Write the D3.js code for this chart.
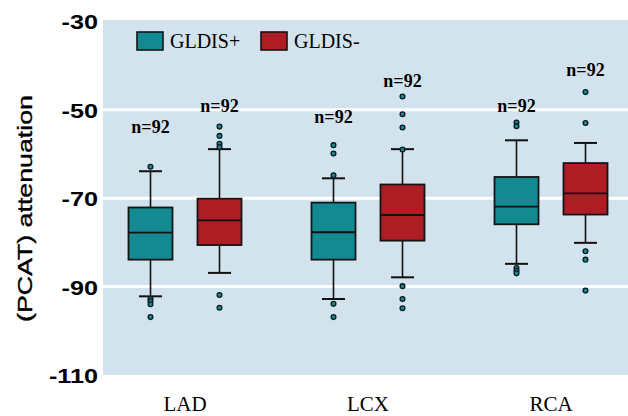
<!DOCTYPE html>
<html><head><meta charset="utf-8">
<script src="https://cdn.jsdelivr.net/npm/d3@7"></script>
<style>body{margin:0;background:#fff}svg{display:block}</style>
</head><body>
<svg id="chart" width="628" height="416"></svg>
<script>
const categories = ["LAD", "LCX", "RCA"];
const groups = ["GLDIS+", "GLDIS-"];
const yTicks = [-30, -50, -70, -90, -110];
const gridValues = [-50, -70, -90];

const plusQ3 = [-72.1, -71.0, -65.2];
const plusMedian = [-77.8, -77.7, -71.9];
const plusQ1 = [-83.9, -83.9, -75.9];
const plusWhiskerHigh = [-63.9, -65.5, -56.9];
const plusWhiskerLow = [-92.2, -92.8, -84.85];
const plusOutliers = [
  [-62.9, -92.8, -93.3, -94.0, -96.9],
  [-58.0, -59.9, -64.8, -93.9, -96.9],
  [-52.9, -53.7, -85.8, -86.4, -87.0]
];
const plusN = [92, 92, 92];
const plusLabelAt = [-55.3, -53.0, -50.5];

const minusQ3 = [-70.1, -66.9, -62.05];
const minusMedian = [-75.0, -73.8, -68.9];
const minusQ1 = [-80.6, -79.6, -73.7];
const minusWhiskerHigh = [-58.9, -58.9, -57.5];
const minusWhiskerLow = [-86.9, -87.9, -80.1];
const minusOutliers = [
  [-53.8, -55.9, -57.7, -58.4, -91.9, -94.8],
  [-47.0, -51.0, -54.0, -59.0, -89.9, -92.8, -94.9],
  [-46.0, -53.0, -82.0, -83.9, -90.9]
];
const minusN = [92, 92, 92];
const minusLabelAt = [-50.5, -44.85, -42.3];

const colors = ["#138a92", "#ae1d24"];

const series = [
  {q3: plusQ3, med: plusMedian, q1: plusQ1, wh: plusWhiskerHigh, wl: plusWhiskerLow, out: plusOutliers, n: plusN, lab: plusLabelAt},
  {q3: minusQ3, med: minusMedian, q1: minusQ1, wh: minusWhiskerHigh, wl: minusWhiskerLow, out: minusOutliers, n: minusN, lab: minusLabelAt}
];

const SANS = "'Liberation Sans', Arial, sans-serif";
const SERIF = "'Liberation Serif', 'Times New Roman', serif";

const svg = d3.select("#chart");
const panel = {left: 103, top: 20, right: 628, bottom: 375};

const y = d3.scaleLinear().domain([-110, -30]).range([375, 21.4]);
const x = d3.scaleBand().domain(categories).range([93.5, 642.5]).padding(0);
const xg = d3.scalePoint().domain(groups).range([-34.5, 34.5]);
const boxW = 44, capW = 23;

svg.append("rect").attr("x", panel.left).attr("y", panel.top)
  .attr("width", panel.right - panel.left).attr("height", panel.bottom - panel.top)
  .attr("fill", "#d3e3ed");

svg.append("g").selectAll("line").data(gridValues).join("line")
  .attr("x1", panel.left).attr("x2", panel.right)
  .attr("y1", d => y(d)).attr("y2", d => y(d))
  .attr("stroke", "#fff").attr("stroke-width", 3);

// y axis labels
const yAxis = d3.axisLeft(y).tickValues(yTicks).tickSize(0).tickPadding(0).tickFormat(d => String(d));
const ga = svg.append("g").attr("transform", "translate(98,0)").call(yAxis);
ga.attr("font-family", SANS);
ga.select(".domain").remove();
ga.selectAll(".tick text")
  .style("font-family", SANS)
  .attr("font-weight", "bold").attr("font-size", 21).attr("fill", "#000")
  .attr("x", 0).attr("dy", "0.36em")
  .attr("transform", "scale(1.2,1)");

// y title
svg.append("text")
  .attr("transform", "translate(32,208.5) rotate(-90)")
  .attr("text-anchor", "middle")
  .style("font-family", SANS)
  .attr("font-size", 20)
  .attr("stroke", "#000").attr("stroke-width", 0.35)
  .attr("textLength", 227).attr("lengthAdjust", "spacingAndGlyphs")
  .text("(PCAT) attenuation");

// x labels
const xAxis = d3.axisBottom(x).tickSize(0).tickPadding(0);
const gx = svg.append("g").call(xAxis);
gx.attr("font-family", SERIF);
gx.select(".domain").remove();
gx.selectAll(".tick text")
  .attr("y", 411).attr("dy", 0)
  .style("font-family", SERIF)
  .attr("font-size", 21).attr("fill", "#000");

// boxes
series.forEach((s, gi) => {
  const g = svg.append("g");
  categories.forEach((c, ci) => {
    const cx = x(c) + x.bandwidth() / 2 + xg(groups[gi]);
    g.append("line").attr("x1", cx).attr("x2", cx).attr("y1", y(s.wh[ci])).attr("y2", y(s.q3[ci]))
      .attr("stroke", "#111").attr("stroke-width", 1.6);
    g.append("line").attr("x1", cx).attr("x2", cx).attr("y1", y(s.q1[ci])).attr("y2", y(s.wl[ci]))
      .attr("stroke", "#111").attr("stroke-width", 1.6);
    [s.wh[ci], s.wl[ci]].forEach(v => {
      g.append("line").attr("x1", cx - capW / 2).attr("x2", cx + capW / 2)
        .attr("y1", y(v)).attr("y2", y(v)).attr("stroke", "#111").attr("stroke-width", 2);
    });
    g.append("rect").attr("x", cx - boxW / 2).attr("y", y(s.q3[ci]))
      .attr("width", boxW).attr("height", y(s.q1[ci]) - y(s.q3[ci]))
      .attr("fill", colors[gi]).attr("stroke", "#151515").attr("stroke-width", 1.8);
    g.append("line").attr("x1", cx - boxW / 2).attr("x2", cx + boxW / 2)
      .attr("y1", y(s.med[ci])).attr("y2", y(s.med[ci]))
      .attr("stroke", "#111").attr("stroke-width", 1.8);
    g.selectAll(null).data(s.out[ci]).join("circle")
      .attr("cx", cx).attr("cy", d => y(d)).attr("r", 2.4)
      .attr("fill", "#138a92").attr("stroke", "#0b1a22").attr("stroke-width", 1.3);
    g.append("text").attr("x", cx).attr("y", y(s.lab[ci]))
      .attr("text-anchor", "middle")
      .style("font-family", SERIF)
      .attr("font-weight", "bold").attr("font-size", 18)
      .text("n=" + s.n[ci]);
  });
});

// legend
const legX = [137, 261];
groups.forEach((gname, i) => {
  svg.append("rect").attr("x", legX[i]).attr("y", 32).attr("width", 26).attr("height", 18)
    .attr("fill", colors[i]).attr("stroke", "#151515").attr("stroke-width", 1.6);
  svg.append("text").attr("x", legX[i] + 33).attr("y", 48)
    .style("font-family", SERIF)
    .attr("font-size", 20).text(gname);
});
</script>
</body></html>
